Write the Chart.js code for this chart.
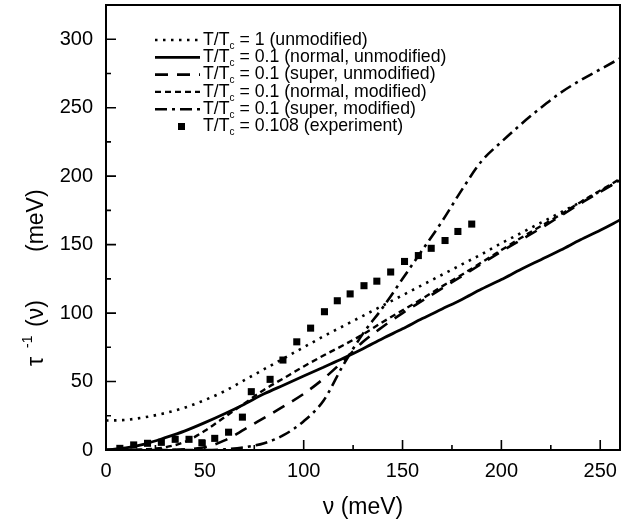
<!DOCTYPE html>
<html>
<head>
    <title>Scattering rate vs frequency</title>
    <style>
        html, body {
            margin: 0;
            padding: 0;
            background: #fff;
        }
        #chart-container {
            width: 631px;
            height: 527px;
        }
    </style>
</head>
<body>
<div id="chart-container">
    <canvas id="rateChart" width="631" height="527"></canvas>
</div>

<script src="https://cdn.jsdelivr.net/npm/chart.js"></script>

<script>
    // frequency grid of the calculated curves (meV)
    const nu = [0, 10, 20, 30, 40, 50, 60, 70, 80, 90, 100, 110, 120, 130, 140, 150, 160, 170, 180, 190, 200, 210, 220, 230, 240, 250, 260];

    // calculated curves, tau^-1 in meV
    const t1Unmodified = [21.5, 22, 24, 27, 31, 36.5, 43, 51, 59, 67, 75, 83, 90.5, 98, 105.5, 113, 120.5, 128, 135.5, 143, 151, 158.5, 166, 173.5, 181, 189, 197];
    const normalUnmodified = [0, 1.5, 4.5, 9, 14, 20, 26.5, 33.5, 41, 47.5, 54, 60.5, 67, 74, 81.5, 88.5, 96, 103, 110, 117.5, 124.5, 132, 139, 146, 153.5, 160.5, 168];
    const superUnmodified = [0, 0, 0, 0, 0.5, 2, 7, 15, 23.5, 32, 41, 52, 65, 79, 90, 100, 109, 118, 127, 136, 145, 153.5, 162, 171, 180, 188.5, 197];
    const normalModified = [0, 0, 0.5, 2, 6, 14, 24, 34, 44, 52.5, 61, 69, 76.5, 84.5, 93.5, 102, 110.5, 119.5, 128, 137, 146, 155, 163.5, 172, 181, 189.5, 198];
    const superModified = [0, 0, 0, 0, 0, 0, 0.5, 2, 5, 11, 21, 36, 62, 85, 104, 125, 146, 167, 190, 211, 225, 238, 250, 261, 270, 278, 286];

    // experiment, T/Tc = 0.108
    const expNu = [7, 14, 21, 28, 35, 42, 48.5, 55, 62, 69, 73.5, 83, 89.5, 96.5, 103.5, 110.5, 117, 123.5, 130.5, 137, 144, 151, 158, 164.5, 171.5, 178, 185];
    const expRate = [1.2, 3.7, 4.9, 5.6, 7.8, 7.8, 5.3, 8.5, 13, 24, 42.6, 51.6, 65.7, 79, 89, 101, 109, 114, 120, 123.3, 130, 137.7, 142, 147.3, 153, 159.6, 165];

    // legend text: [before subscript, subscript, after]
    const legendText = [
        ['T/T', 'c', ' = 1 (unmodified)'],
        ['T/T', 'c', ' = 0.1 (normal, unmodified)'],
        ['T/T', 'c', ' = 0.1 (super, unmodified)'],
        ['T/T', 'c', ' = 0.1 (normal, modified)'],
        ['T/T', 'c', ' = 0.1 (super, modified)'],
        ['T/T', 'c', ' = 0.108 (experiment)']
    ];

    const xTicks = [0, 50, 100, 150, 200, 250];
    const yTicks = [0, 50, 100, 150, 200, 250, 300];

    const FONT = "'Liberation Sans', Arial, Helvetica, sans-serif";

    function toPoints(xs, ys) {
        return xs.map((x, i) => ({ x: x, y: ys[i] }));
    }

    function curve(data, dash, width) {
        return {
            type: 'line',
            data: toPoints(nu, data),
            borderColor: '#000',
            borderWidth: width,
            borderDash: dash,
            pointRadius: 0,
            fill: false,
            cubicInterpolationMode: 'monotone'
        };
    }

    const datasets = [
        curve(t1Unmodified, [2.5, 5.5], 2.6),
        curve(normalUnmodified, [], 2.8),
        curve(superUnmodified, [13, 9], 2.6),
        curve(normalModified, [6, 4], 2.4),
        curve(superModified, [12, 5, 3, 5], 2.6),
        {
            type: 'scatter',
            data: toPoints(expNu, expRate),
            pointStyle: 'rect',
            pointRadius: 5,
            pointHoverRadius: 5,
            backgroundColor: '#000',
            borderColor: '#000',
            borderWidth: 0,
            showLine: false
        }
    ];

    // frame plus inward major/minor ticks
    const framePlugin = {
        id: 'frame',
        afterDatasetsDraw(chart) {
            const { ctx, chartArea: a, scales } = chart;
            ctx.save();
            ctx.strokeStyle = '#000';
            ctx.lineWidth = 2;
            ctx.strokeRect(a.left, a.top, a.right - a.left, a.bottom - a.top);
            ctx.lineWidth = 1.6;
            ctx.beginPath();
            for (let v = 25; v < 260; v += 25) {
                const px = scales.x.getPixelForValue(v);
                const len = v % 50 === 0 ? 10 : 5;
                ctx.moveTo(px, a.bottom);
                ctx.lineTo(px, a.bottom - len);
            }
            for (let v = 25; v < 325; v += 25) {
                const py = scales.y.getPixelForValue(v);
                const len = v % 50 === 0 ? 10 : 5;
                ctx.moveTo(a.left, py);
                ctx.lineTo(a.left + len, py);
            }
            ctx.stroke();
            ctx.restore();
        }
    };

    // legend and y title with sub/superscripts
    const legendPlugin = {
        id: 'paperLegend',
        afterDraw(chart) {
            const ctx = chart.ctx;
            const sets = chart.data.datasets;
            ctx.save();
            ctx.fillStyle = '#000';
            ctx.strokeStyle = '#000';
            ctx.textBaseline = 'middle';
            legendText.forEach((parts, i) => {
                const y = 40 + i * 17.3;
                const ds = sets[i];
                if (ds.type === 'line') {
                    ctx.lineWidth = ds.borderWidth;
                    ctx.setLineDash(ds.borderDash);
                    ctx.beginPath();
                    ctx.moveTo(155, y);
                    ctx.lineTo(200, y);
                    ctx.stroke();
                    ctx.setLineDash([]);
                } else {
                    ctx.fillRect(178, y - 3.5, 7, 7);
                }
                let x = 203;
                ctx.font = '17.7px ' + FONT;
                ctx.fillText(parts[0], x, y);
                x += ctx.measureText(parts[0]).width;
                ctx.font = '10px ' + FONT;
                ctx.fillText(parts[1], x, y + 6);
                x += ctx.measureText(parts[1]).width;
                ctx.font = '17.7px ' + FONT;
                ctx.fillText(parts[2], x, y);
            });

            // y axis title, rotated
            ctx.translate(37, 0);
            ctx.rotate(-Math.PI / 2);
            ctx.textAlign = 'left';
            ctx.font = '23px ' + FONT;
            ctx.fillText('τ', -366, 0);
            ctx.font = '14px ' + FONT;
            ctx.fillText('-1', -348, -9);
            ctx.font = '23px ' + FONT;
            ctx.fillText('(ν)', -327, 0);
            ctx.fillText('(meV)', -252, 0);
            ctx.restore();
        }
    };

    new Chart(document.getElementById('rateChart').getContext('2d'), {
        type: 'scatter',
        data: { datasets: datasets },
        options: {
            responsive: false,
            animation: false,
            devicePixelRatio: 1,
            layout: { padding: { top: 5, right: 11, left: 0, bottom: 0 } },
            plugins: {
                legend: { display: false },
                tooltip: { enabled: false }
            },
            scales: {
                x: {
                    type: 'linear',
                    min: 0,
                    max: 260,
                    afterFit: s => {
                        s.height = 77;
                        s.paddingLeft = 0;
                        s.paddingRight = 0;
                    },
                    afterBuildTicks: s => { s.ticks = xTicks.map(v => ({ value: v })); },
                    grid: { display: false, drawTicks: false },
                    border: { display: false },
                    ticks: {
                        color: '#000',
                        padding: 9,
                        font: { family: FONT, size: 20 }
                    },
                    title: {
                        display: true,
                        text: 'ν (meV)',
                        color: '#000',
                        font: { family: FONT, size: 23 },
                        padding: { top: 0, bottom: 6 }
                    }
                },
                y: {
                    type: 'linear',
                    min: 0,
                    max: 325,
                    afterFit: s => {
                        s.width = 106;
                        s.paddingTop = 0;
                        s.paddingBottom = 0;
                    },
                    afterBuildTicks: s => { s.ticks = yTicks.map(v => ({ value: v })); },
                    grid: { display: false, drawTicks: false },
                    border: { display: false },
                    ticks: {
                        color: '#000',
                        padding: 13,
                        font: { family: FONT, size: 20 }
                    },
                    title: { display: false }
                }
            }
        },
        plugins: [framePlugin, legendPlugin]
    });
</script>
</body>
</html>
